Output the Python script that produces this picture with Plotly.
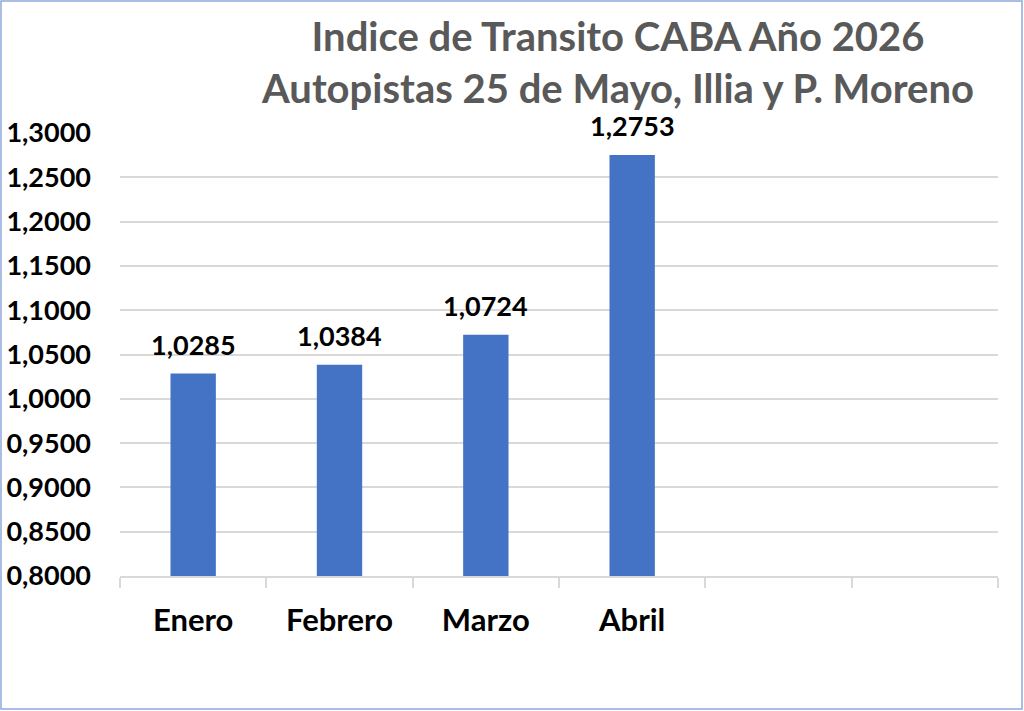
import plotly.graph_objects as go

categories = ["Enero", "Febrero", "Marzo", "Abril", " ", "  "]
values = [1.0285, 1.0384, 1.0724, 1.2753, None, None]
title_lines = ["Indice de Transito CABA Año 2026", "Autopistas 25 de Mayo, Illia y P. Moreno"]
y_range = [0.8, 1.3]
y_dtick = 0.05

W, H = 1024, 711
ml, mr, mt, mb = 120, 26, 133, 135
pw, ph = W - ml - mr, H - mt - mb

font_family = "Lato, 'Open Sans', sans-serif"

fig = go.Figure(go.Bar(
    x=categories, y=values,
    marker=dict(color="#4472C4", line=dict(width=0)),
    cliponaxis=False,
    width=0.31,
))

# data labels
for c, v in zip(categories, values):
    if v is None:
        continue
    fig.add_annotation(
        x=c, y=v, xref="x", yref="y",
        text=f"{v:.4f}".replace(".", ","),
        showarrow=False, yanchor="bottom", yshift=11,
        font=dict(family=font_family, size=27, color="#000000", weight="bold"),
    )

fig.update_layout(
    width=W, height=H,
    margin=dict(l=ml, r=mr, t=mt, b=mb, autoexpand=False),
    paper_bgcolor="white", plot_bgcolor="white",
    separators=",.",
    showlegend=False,
    font=dict(family=font_family, color="#000000"),
)
fig.update_xaxes(
    type="category", automargin=False,
    showline=True, linecolor="#D9D9D9", linewidth=2,
    ticks="outside", tickson="boundaries", ticklen=10, tickcolor="#D9D9D9", tickwidth=2,
    tickfont=dict(family=font_family, size=31, color="#000000", weight="bold"),
    ticklabelstandoff=16,
    showgrid=False,
)
fig.update_yaxes(
    range=y_range, dtick=y_dtick, tick0=0.8, tickformat=".4f", automargin=False,
    showgrid=True, gridcolor="#D9D9D9", gridwidth=2,
    zeroline=False, showline=False, ticks="",
    tickfont=dict(family=font_family, size=27, color="#000000", weight="bold"),
    ticklabelstandoff=28,
)

fig.add_annotation(
    text="<br>".join(title_lines),
    xref="paper", yref="paper",
    x=(617 - ml) / pw, y=1 + (mt - 10) / ph,
    xanchor="center", yanchor="top",
    showarrow=False,
    font=dict(family=font_family, size=40, color="#595959", weight="bold"),
    align="center",
)

# figure border
fig.add_shape(
    type="rect", xref="paper", yref="paper",
    x0=(1 - ml) / pw, x1=(W - 2 - ml) / pw,
    y0=-(mb - 2) / ph, y1=1 + (mt - 1) / ph,
    line=dict(color="#8EA9DB", width=1.5), fillcolor="rgba(0,0,0,0)",
    layer="below",
)

fig.write_html(
    "out.html",
    config={"displayModeBar": False},
    post_script="document.body.style.margin='0';document.body.style.overflow='hidden';",
)
